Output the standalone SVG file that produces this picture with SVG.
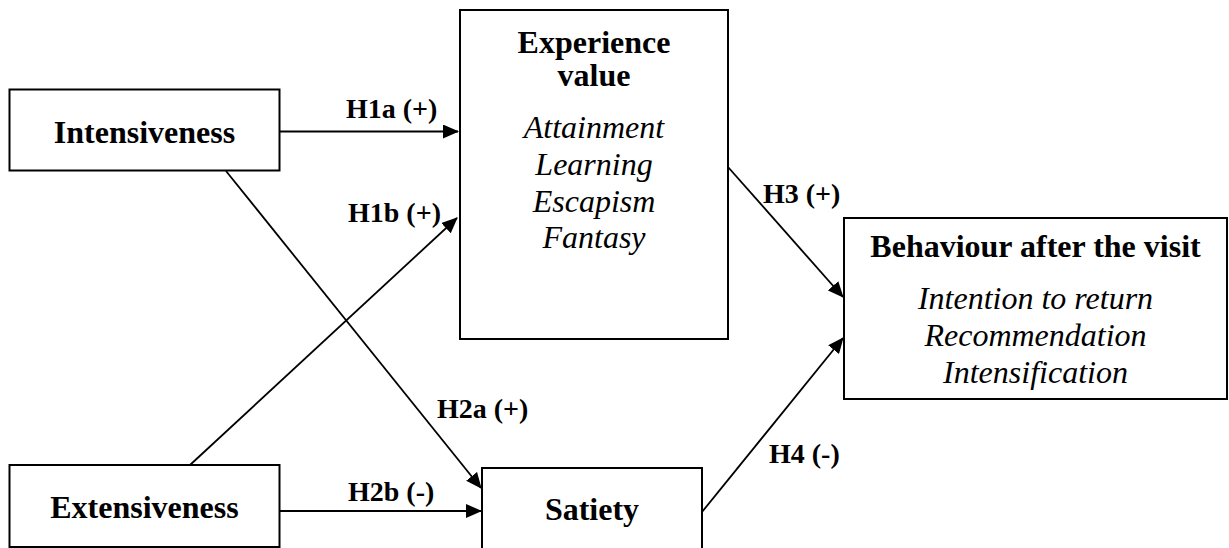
<svg xmlns="http://www.w3.org/2000/svg" width="1229" height="548" viewBox="0 0 1229 548">
<style>
.box{fill:#fff;stroke:#000;stroke-width:2}
.t{font-family:"Liberation Serif","Times New Roman",serif;font-size:32px;fill:#000;text-anchor:middle}
.b{font-weight:bold}
.i{font-style:italic}
.lbl{font-family:"Liberation Serif","Times New Roman",serif;font-size:28px;font-weight:bold;fill:#000}
.c{fill:none;stroke:#000;stroke-width:1.8}
</style>
<defs>
<marker id="arr" markerUnits="userSpaceOnUse" markerWidth="16" markerHeight="14" refX="15" refY="7" orient="auto">
<path d="M0,0 L16,7 L0,14 Z" fill="#000"/>
</marker>
</defs>
<rect width="1229" height="548" fill="#fff"/>
<g id="connectors">
<line class="c" x1="280" y1="131.5" x2="458" y2="131.5" marker-end="url(#arr)"/>
<line class="c" x1="226" y1="171" x2="481" y2="488" marker-end="url(#arr)"/>
<line class="c" x1="190" y1="465" x2="457" y2="218" marker-end="url(#arr)"/>
<line class="c" x1="280" y1="511" x2="481" y2="511" marker-end="url(#arr)"/>
<line class="c" x1="728" y1="167" x2="843" y2="297" marker-end="url(#arr)"/>
<line class="c" x1="702" y1="512" x2="843" y2="338" marker-end="url(#arr)"/>
<text class="lbl" x="346" y="118">H1a (+)</text>
<text class="lbl" x="348" y="222">H1b (+)</text>
<text class="lbl" x="437" y="418">H2a (+)</text>
<text class="lbl" x="348" y="501">H2b (-)</text>
<text class="lbl" x="763" y="203">H3 (+)</text>
<text class="lbl" x="769" y="463">H4 (-)</text>
</g>
<g id="intensiveness">
<rect class="box" x="9.5" y="89.5" width="270" height="81"/>
<text class="t b" x="144.5" y="143">Intensiveness</text>
</g>
<g id="extensiveness">
<rect class="box" x="9.5" y="465" width="270" height="82"/>
<text class="t b" x="144.5" y="518">Extensiveness</text>
</g>
<g id="experience">
<rect class="box" x="460" y="10" width="268" height="329"/>
<text class="t b" x="594" y="53">Experience</text>
<text class="t b" x="594" y="86">value</text>
<text class="t i" x="594" y="138">Attainment</text>
<text class="t i" x="594" y="175">Learning</text>
<text class="t i" x="594" y="212">Escapism</text>
<text class="t i" x="594" y="248">Fantasy</text>
</g>
<g id="satiety">
<rect class="box" x="482" y="468" width="220" height="100"/>
<text class="t b" x="592" y="520">Satiety</text>
</g>
<g id="behaviour">
<rect class="box" x="844" y="218" width="383" height="181"/>
<text class="t b" x="1035.5" y="257">Behaviour after the visit</text>
<text class="t i" x="1035.5" y="309">Intention to return</text>
<text class="t i" x="1035.5" y="346">Recommendation</text>
<text class="t i" x="1035.5" y="383">Intensification</text>
</g>
</svg>
